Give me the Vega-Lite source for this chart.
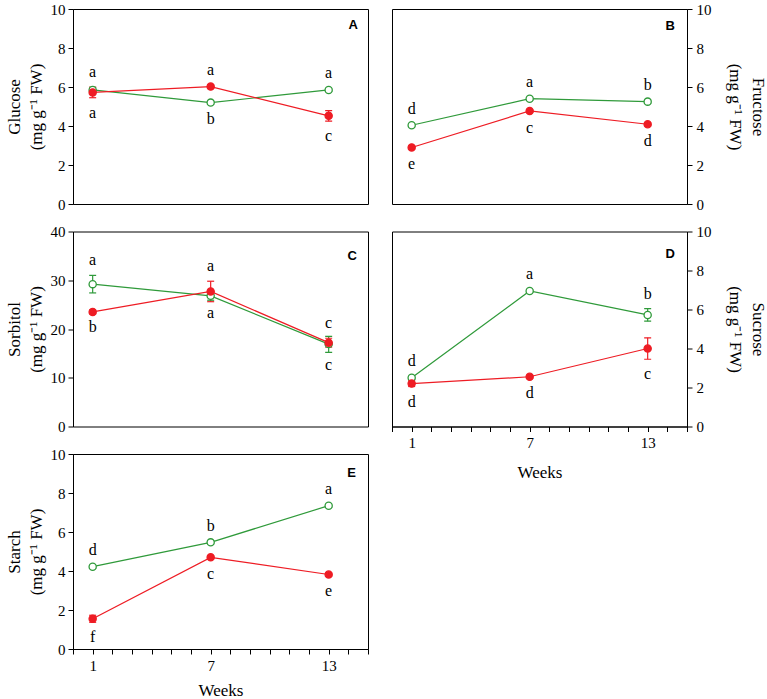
{
  "$schema": "https://vega.github.io/schema/vega-lite/v6.json",
  "background": "white",
  "padding": {"left": 4, "top": 1, "right": 0, "bottom": 0},
  "datasets": {
    "sugars": [
      {"panel": "A", "series": "Open", "week": 1, "mean": 5.85, "lo": 5.72, "hi": 5.98, "letter": "a", "pos": "above"},
      {"panel": "A", "series": "Open", "week": 7, "mean": 5.2, "lo": 5.12, "hi": 5.28, "letter": "b", "pos": "below"},
      {"panel": "A", "series": "Open", "week": 13, "mean": 5.85, "lo": 5.77, "hi": 5.93, "letter": "a", "pos": "above"},
      {"panel": "A", "series": "Filled", "week": 1, "mean": 5.72, "lo": 5.45, "hi": 5.99, "letter": "a", "pos": "below"},
      {"panel": "A", "series": "Filled", "week": 7, "mean": 6.02, "lo": 5.92, "hi": 6.12, "letter": "a", "pos": "above"},
      {"panel": "A", "series": "Filled", "week": 13, "mean": 4.52, "lo": 4.25, "hi": 4.79, "letter": "c", "pos": "below"},
      {"panel": "B", "series": "Open", "week": 1, "mean": 4.04, "lo": 3.96, "hi": 4.12, "letter": "d", "pos": "above"},
      {"panel": "B", "series": "Open", "week": 7, "mean": 5.4, "lo": 5.32, "hi": 5.48, "letter": "a", "pos": "above"},
      {"panel": "B", "series": "Open", "week": 13, "mean": 5.25, "lo": 5.17, "hi": 5.33, "letter": "b", "pos": "above"},
      {"panel": "B", "series": "Filled", "week": 1, "mean": 2.9, "lo": 2.82, "hi": 2.98, "letter": "e", "pos": "below"},
      {"panel": "B", "series": "Filled", "week": 7, "mean": 4.77, "lo": 4.69, "hi": 4.85, "letter": "c", "pos": "below"},
      {"panel": "B", "series": "Filled", "week": 13, "mean": 4.09, "lo": 4.01, "hi": 4.17, "letter": "d", "pos": "below"},
      {"panel": "C", "series": "Open", "week": 1, "mean": 29.2, "lo": 27.4, "hi": 31.0, "letter": "a", "pos": "above"},
      {"panel": "C", "series": "Open", "week": 7, "mean": 26.8, "lo": 25.9, "hi": 27.7, "letter": "a", "pos": "below"},
      {"panel": "C", "series": "Open", "week": 13, "mean": 16.9, "lo": 15.2, "hi": 18.5, "letter": "c", "pos": "below"},
      {"panel": "C", "series": "Filled", "week": 1, "mean": 23.5, "lo": 23.1, "hi": 23.9, "letter": "b", "pos": "below"},
      {"panel": "C", "series": "Filled", "week": 7, "mean": 27.7, "lo": 25.6, "hi": 29.8, "letter": "a", "pos": "above"},
      {"panel": "C", "series": "Filled", "week": 13, "mean": 17.2, "lo": 16.3, "hi": 18.1, "letter": "c", "pos": "above"},
      {"panel": "D", "series": "Open", "week": 1, "mean": 2.5, "lo": 2.42, "hi": 2.58, "letter": "d", "pos": "above"},
      {"panel": "D", "series": "Open", "week": 7, "mean": 6.95, "lo": 6.87, "hi": 7.03, "letter": "a", "pos": "above"},
      {"panel": "D", "series": "Open", "week": 13, "mean": 5.72, "lo": 5.4, "hi": 6.05, "letter": "b", "pos": "above"},
      {"panel": "D", "series": "Filled", "week": 1, "mean": 2.2, "lo": 2.05, "hi": 2.35, "letter": "d", "pos": "below"},
      {"panel": "D", "series": "Filled", "week": 7, "mean": 2.55, "lo": 2.47, "hi": 2.63, "letter": "d", "pos": "below"},
      {"panel": "D", "series": "Filled", "week": 13, "mean": 4.0, "lo": 3.45, "hi": 4.55, "letter": "c", "pos": "below"},
      {"panel": "E", "series": "Open", "week": 1, "mean": 4.22, "lo": 4.14, "hi": 4.3, "letter": "d", "pos": "above"},
      {"panel": "E", "series": "Open", "week": 7, "mean": 5.47, "lo": 5.39, "hi": 5.55, "letter": "b", "pos": "above"},
      {"panel": "E", "series": "Open", "week": 13, "mean": 7.35, "lo": 7.27, "hi": 7.43, "letter": "a", "pos": "above"},
      {"panel": "E", "series": "Filled", "week": 1, "mean": 1.55, "lo": 1.37, "hi": 1.73, "letter": "f", "pos": "below"},
      {"panel": "E", "series": "Filled", "week": 7, "mean": 4.7, "lo": 4.62, "hi": 4.78, "letter": "c", "pos": "below"},
      {"panel": "E", "series": "Filled", "week": 13, "mean": 3.82, "lo": 3.74, "hi": 3.9, "letter": "e", "pos": "below"}
    ]
  },
  "spacing": 22,
  "hconcat": [
    {
      "spacing": 27.5,
      "bounds": "flush",
      "vconcat": [
        {
          "width": 295, "height": 195,
          "title": {"text": "A", "anchor": "end", "frame": "group", "offset": -30, "dx": -10, "font": "Liberation Sans", "fontWeight": "bold", "fontSize": 13, "color": "black"},
          "data": {"name": "sugars"},
          "transform": [{"filter": "datum.panel == 'A'"}],
          "encoding": {
            "x": {"field": "week", "type": "quantitative", "scale": {"domain": [0, 15], "nice": false}, "axis": null},
            "y": {"field": "mean", "type": "quantitative", "scale": {"domain": [0, 10], "nice": false},
                  "axis": {"orient": "left", "values": [0, 2, 4, 6, 8, 10], "title": ["Glucose", "(mg g⁻¹ FW)"], "grid": false,
                           "labelFont": "Liberation Serif", "labelFontSize": 15, "labelColor": "black", "labelPadding": 3,
                           "tickSize": 5, "tickColor": "black", "domainColor": "black", "labelOverlap": false,
                           "titleFont": "Liberation Serif", "titleFontSize": 17, "titleFontWeight": "normal", "titleColor": "black",
                           "titleLineHeight": 22, "titlePadding": 5}}
          },
          "layer": [
            {"mark": {"type": "line", "strokeWidth": 1.2},
             "encoding": {"color": {"field": "series", "type": "nominal", "scale": {"domain": ["Open", "Filled"], "range": ["#2f9a3a", "#ee1c24"]}, "legend": null}}},
            {"mark": {"type": "rule", "strokeWidth": 1.2},
             "encoding": {"y": {"field": "lo", "type": "quantitative"}, "y2": {"field": "hi"}, "color": {"field": "series", "type": "nominal", "legend": null}}},
            {"mark": {"type": "tick", "orient": "horizontal", "size": 7, "thickness": 1.2, "opacity": 1},
             "encoding": {"y": {"field": "lo", "type": "quantitative"}, "color": {"field": "series", "type": "nominal", "legend": null}}},
            {"mark": {"type": "tick", "orient": "horizontal", "size": 7, "thickness": 1.2, "opacity": 1},
             "encoding": {"y": {"field": "hi", "type": "quantitative"}, "color": {"field": "series", "type": "nominal", "legend": null}}},
            {"mark": {"type": "circle", "size": 52, "strokeWidth": 1.3, "opacity": 1},
             "encoding": {"stroke": {"field": "series", "type": "nominal", "scale": {"domain": ["Open", "Filled"], "range": ["#2f9a3a", "#ee1c24"]}, "legend": null},
                          "fill": {"field": "series", "type": "nominal", "scale": {"domain": ["Open", "Filled"], "range": ["#ffffff", "#ee1c24"]}, "legend": null}}},
            {"transform": [{"filter": "datum.pos == 'above'"}],
             "mark": {"type": "text", "dy": -15, "font": "Liberation Serif", "fontSize": 16, "color": "black"},
             "encoding": {"y": {"field": "hi", "type": "quantitative"}, "text": {"field": "letter"}}},
            {"transform": [{"filter": "datum.pos == 'below'"}],
             "mark": {"type": "text", "dy": 15, "font": "Liberation Serif", "fontSize": 16, "color": "black"},
             "encoding": {"y": {"field": "lo", "type": "quantitative"}, "text": {"field": "letter"}}}
          ]
        },
        {
          "width": 295, "height": 195,
          "title": {"text": "C", "anchor": "end", "frame": "group", "offset": -38, "dx": -11, "font": "Liberation Sans", "fontWeight": "bold", "fontSize": 13, "color": "black"},
          "data": {"name": "sugars"},
          "transform": [{"filter": "datum.panel == 'C'"}],
          "encoding": {
            "x": {"field": "week", "type": "quantitative", "scale": {"domain": [0, 15], "nice": false}, "axis": null},
            "y": {"field": "mean", "type": "quantitative", "scale": {"domain": [0, 40], "nice": false},
                  "axis": {"orient": "left", "values": [0, 10, 20, 30, 40], "title": ["Sorbitol", "(mg g⁻¹ FW)"], "grid": false,
                           "labelFont": "Liberation Serif", "labelFontSize": 15, "labelColor": "black", "labelPadding": 3,
                           "tickSize": 5, "tickColor": "black", "domainColor": "black", "labelOverlap": false,
                           "titleFont": "Liberation Serif", "titleFontSize": 17, "titleFontWeight": "normal", "titleColor": "black",
                           "titleLineHeight": 22, "titlePadding": 5}}
          },
          "layer": [
            {"mark": {"type": "line", "strokeWidth": 1.2},
             "encoding": {"color": {"field": "series", "type": "nominal", "scale": {"domain": ["Open", "Filled"], "range": ["#2f9a3a", "#ee1c24"]}, "legend": null}}},
            {"mark": {"type": "rule", "strokeWidth": 1.2},
             "encoding": {"y": {"field": "lo", "type": "quantitative"}, "y2": {"field": "hi"}, "color": {"field": "series", "type": "nominal", "legend": null}}},
            {"mark": {"type": "tick", "orient": "horizontal", "size": 7, "thickness": 1.2, "opacity": 1},
             "encoding": {"y": {"field": "lo", "type": "quantitative"}, "color": {"field": "series", "type": "nominal", "legend": null}}},
            {"mark": {"type": "tick", "orient": "horizontal", "size": 7, "thickness": 1.2, "opacity": 1},
             "encoding": {"y": {"field": "hi", "type": "quantitative"}, "color": {"field": "series", "type": "nominal", "legend": null}}},
            {"mark": {"type": "circle", "size": 52, "strokeWidth": 1.3, "opacity": 1},
             "encoding": {"stroke": {"field": "series", "type": "nominal", "scale": {"domain": ["Open", "Filled"], "range": ["#2f9a3a", "#ee1c24"]}, "legend": null},
                          "fill": {"field": "series", "type": "nominal", "scale": {"domain": ["Open", "Filled"], "range": ["#ffffff", "#ee1c24"]}, "legend": null}}},
            {"transform": [{"filter": "datum.pos == 'above'"}],
             "mark": {"type": "text", "dy": -15, "font": "Liberation Serif", "fontSize": 16, "color": "black"},
             "encoding": {"y": {"field": "hi", "type": "quantitative"}, "text": {"field": "letter"}}},
            {"transform": [{"filter": "datum.pos == 'below'"}],
             "mark": {"type": "text", "dy": 13, "font": "Liberation Serif", "fontSize": 16, "color": "black"},
             "encoding": {"y": {"field": "lo", "type": "quantitative"}, "text": {"field": "letter"}}}
          ]
        },
        {
          "width": 295, "height": 195,
          "title": {"text": "E", "anchor": "end", "frame": "group", "offset": -33, "dx": -12, "font": "Liberation Sans", "fontWeight": "bold", "fontSize": 13, "color": "black"},
          "data": {"name": "sugars"},
          "transform": [{"filter": "datum.panel == 'E'"}],
          "encoding": {
            "x": {"field": "week", "type": "quantitative", "scale": {"domain": [0, 15], "nice": false},
                  "axis": {"values": [0, 1, 2, 3, 4, 5, 6, 7, 8, 9, 10, 11, 12, 13, 14, 15],
                           "labelExpr": "indexof([1, 7, 13], datum.value) >= 0 ? datum.label : ''",
                           "labelFlush": false, "labelOverlap": false, "grid": false,
                           "labelFont": "Liberation Serif", "labelFontSize": 15, "labelColor": "black", "labelPadding": 4,
                           "tickSize": 5, "tickColor": "black", "domainColor": "black",
                           "title": "Weeks", "titleFont": "Liberation Serif", "titleFontSize": 17, "titleFontWeight": "normal", "titleColor": "black", "titlePadding": 9}},
            "y": {"field": "mean", "type": "quantitative", "scale": {"domain": [0, 10], "nice": false},
                  "axis": {"orient": "left", "values": [0, 2, 4, 6, 8, 10], "title": ["Starch", "(mg g⁻¹ FW)"], "grid": false,
                           "labelFont": "Liberation Serif", "labelFontSize": 15, "labelColor": "black", "labelPadding": 3,
                           "tickSize": 5, "tickColor": "black", "domainColor": "black", "labelOverlap": false,
                           "titleFont": "Liberation Serif", "titleFontSize": 17, "titleFontWeight": "normal", "titleColor": "black",
                           "titleLineHeight": 22, "titlePadding": 5}}
          },
          "layer": [
            {"mark": {"type": "line", "strokeWidth": 1.2},
             "encoding": {"color": {"field": "series", "type": "nominal", "scale": {"domain": ["Open", "Filled"], "range": ["#2f9a3a", "#ee1c24"]}, "legend": null}}},
            {"mark": {"type": "rule", "strokeWidth": 1.2},
             "encoding": {"y": {"field": "lo", "type": "quantitative"}, "y2": {"field": "hi"}, "color": {"field": "series", "type": "nominal", "legend": null}}},
            {"mark": {"type": "tick", "orient": "horizontal", "size": 7, "thickness": 1.2, "opacity": 1},
             "encoding": {"y": {"field": "lo", "type": "quantitative"}, "color": {"field": "series", "type": "nominal", "legend": null}}},
            {"mark": {"type": "tick", "orient": "horizontal", "size": 7, "thickness": 1.2, "opacity": 1},
             "encoding": {"y": {"field": "hi", "type": "quantitative"}, "color": {"field": "series", "type": "nominal", "legend": null}}},
            {"mark": {"type": "circle", "size": 52, "strokeWidth": 1.3, "opacity": 1},
             "encoding": {"stroke": {"field": "series", "type": "nominal", "scale": {"domain": ["Open", "Filled"], "range": ["#2f9a3a", "#ee1c24"]}, "legend": null},
                          "fill": {"field": "series", "type": "nominal", "scale": {"domain": ["Open", "Filled"], "range": ["#ffffff", "#ee1c24"]}, "legend": null}}},
            {"transform": [{"filter": "datum.pos == 'above'"}],
             "mark": {"type": "text", "dy": -15, "font": "Liberation Serif", "fontSize": 16, "color": "black"},
             "encoding": {"y": {"field": "hi", "type": "quantitative"}, "text": {"field": "letter"}}},
            {"transform": [{"filter": "datum.pos == 'below'"}],
             "mark": {"type": "text", "dy": 15, "font": "Liberation Serif", "fontSize": 16, "color": "black"},
             "encoding": {"y": {"field": "lo", "type": "quantitative"}, "text": {"field": "letter"}}}
          ]
        }
      ]
    },
    {
      "spacing": 27.5,
      "bounds": "flush",
      "vconcat": [
        {
          "width": 295, "height": 195,
          "title": {"text": "B", "anchor": "end", "frame": "group", "offset": -31, "dx": -12, "font": "Liberation Sans", "fontWeight": "bold", "fontSize": 13, "color": "black"},
          "data": {"name": "sugars"},
          "transform": [{"filter": "datum.panel == 'B'"}],
          "encoding": {
            "x": {"field": "week", "type": "quantitative", "scale": {"domain": [0, 15], "nice": false}, "axis": null},
            "y": {"field": "mean", "type": "quantitative", "scale": {"domain": [0, 10], "nice": false},
                  "axis": {"orient": "right", "values": [0, 2, 4, 6, 8, 10], "title": ["Fructose", "(mg g⁻¹ FW)"], "titleAngle": 90, "grid": false,
                           "labelFont": "Liberation Serif", "labelFontSize": 15, "labelColor": "black", "labelPadding": 4,
                           "tickSize": 5, "tickColor": "black", "domainColor": "black", "labelOverlap": false,
                           "titleFont": "Liberation Serif", "titleFontSize": 17, "titleFontWeight": "normal", "titleColor": "black",
                           "titleLineHeight": 23, "titlePadding": 14}}
          },
          "layer": [
            {"mark": {"type": "line", "strokeWidth": 1.2},
             "encoding": {"color": {"field": "series", "type": "nominal", "scale": {"domain": ["Open", "Filled"], "range": ["#2f9a3a", "#ee1c24"]}, "legend": null}}},
            {"mark": {"type": "rule", "strokeWidth": 1.2},
             "encoding": {"y": {"field": "lo", "type": "quantitative"}, "y2": {"field": "hi"}, "color": {"field": "series", "type": "nominal", "legend": null}}},
            {"mark": {"type": "tick", "orient": "horizontal", "size": 7, "thickness": 1.2, "opacity": 1},
             "encoding": {"y": {"field": "lo", "type": "quantitative"}, "color": {"field": "series", "type": "nominal", "legend": null}}},
            {"mark": {"type": "tick", "orient": "horizontal", "size": 7, "thickness": 1.2, "opacity": 1},
             "encoding": {"y": {"field": "hi", "type": "quantitative"}, "color": {"field": "series", "type": "nominal", "legend": null}}},
            {"mark": {"type": "circle", "size": 52, "strokeWidth": 1.3, "opacity": 1},
             "encoding": {"stroke": {"field": "series", "type": "nominal", "scale": {"domain": ["Open", "Filled"], "range": ["#2f9a3a", "#ee1c24"]}, "legend": null},
                          "fill": {"field": "series", "type": "nominal", "scale": {"domain": ["Open", "Filled"], "range": ["#ffffff", "#ee1c24"]}, "legend": null}}},
            {"transform": [{"filter": "datum.pos == 'above'"}],
             "mark": {"type": "text", "dy": -15, "font": "Liberation Serif", "fontSize": 16, "color": "black"},
             "encoding": {"y": {"field": "hi", "type": "quantitative"}, "text": {"field": "letter"}}},
            {"transform": [{"filter": "datum.pos == 'below'"}],
             "mark": {"type": "text", "dy": 15, "font": "Liberation Serif", "fontSize": 16, "color": "black"},
             "encoding": {"y": {"field": "lo", "type": "quantitative"}, "text": {"field": "letter"}}}
          ]
        },
        {
          "width": 295, "height": 195,
          "title": {"text": "D", "anchor": "end", "frame": "group", "offset": -36, "dx": -12, "font": "Liberation Sans", "fontWeight": "bold", "fontSize": 13, "color": "black"},
          "data": {"name": "sugars"},
          "transform": [{"filter": "datum.panel == 'D'"}],
          "encoding": {
            "x": {"field": "week", "type": "quantitative", "scale": {"domain": [0, 15], "nice": false},
                  "axis": {"values": [0, 1, 2, 3, 4, 5, 6, 7, 8, 9, 10, 11, 12, 13, 14, 15],
                           "labelExpr": "indexof([1, 7, 13], datum.value) >= 0 ? datum.label : ''",
                           "labelFlush": false, "labelOverlap": false, "grid": false,
                           "labelFont": "Liberation Serif", "labelFontSize": 15, "labelColor": "black", "labelPadding": 4,
                           "tickSize": 5, "tickColor": "black", "domainColor": "black",
                           "title": "Weeks", "titleFont": "Liberation Serif", "titleFontSize": 17, "titleFontWeight": "normal", "titleColor": "black", "titlePadding": 14}},
            "y": {"field": "mean", "type": "quantitative", "scale": {"domain": [0, 10], "nice": false},
                  "axis": {"orient": "right", "values": [0, 2, 4, 6, 8, 10], "title": ["Sucrose", "(mg g⁻¹ FW)"], "titleAngle": 90, "grid": false,
                           "labelFont": "Liberation Serif", "labelFontSize": 15, "labelColor": "black", "labelPadding": 4,
                           "tickSize": 5, "tickColor": "black", "domainColor": "black", "labelOverlap": false,
                           "titleFont": "Liberation Serif", "titleFontSize": 17, "titleFontWeight": "normal", "titleColor": "black",
                           "titleLineHeight": 23, "titlePadding": 14}}
          },
          "layer": [
            {"mark": {"type": "line", "strokeWidth": 1.2},
             "encoding": {"color": {"field": "series", "type": "nominal", "scale": {"domain": ["Open", "Filled"], "range": ["#2f9a3a", "#ee1c24"]}, "legend": null}}},
            {"mark": {"type": "rule", "strokeWidth": 1.2},
             "encoding": {"y": {"field": "lo", "type": "quantitative"}, "y2": {"field": "hi"}, "color": {"field": "series", "type": "nominal", "legend": null}}},
            {"mark": {"type": "tick", "orient": "horizontal", "size": 7, "thickness": 1.2, "opacity": 1},
             "encoding": {"y": {"field": "lo", "type": "quantitative"}, "color": {"field": "series", "type": "nominal", "legend": null}}},
            {"mark": {"type": "tick", "orient": "horizontal", "size": 7, "thickness": 1.2, "opacity": 1},
             "encoding": {"y": {"field": "hi", "type": "quantitative"}, "color": {"field": "series", "type": "nominal", "legend": null}}},
            {"mark": {"type": "circle", "size": 52, "strokeWidth": 1.3, "opacity": 1},
             "encoding": {"stroke": {"field": "series", "type": "nominal", "scale": {"domain": ["Open", "Filled"], "range": ["#2f9a3a", "#ee1c24"]}, "legend": null},
                          "fill": {"field": "series", "type": "nominal", "scale": {"domain": ["Open", "Filled"], "range": ["#ffffff", "#ee1c24"]}, "legend": null}}},
            {"transform": [{"filter": "datum.pos == 'above'"}],
             "mark": {"type": "text", "dy": -15, "font": "Liberation Serif", "fontSize": 16, "color": "black"},
             "encoding": {"y": {"field": "hi", "type": "quantitative"}, "text": {"field": "letter"}}},
            {"transform": [{"filter": "datum.pos == 'below'"}],
             "mark": {"type": "text", "dy": 15, "font": "Liberation Serif", "fontSize": 16, "color": "black"},
             "encoding": {"y": {"field": "lo", "type": "quantitative"}, "text": {"field": "letter"}}}
          ]
        }
      ]
    }
  ],
  "config": {
    "view": {"stroke": "black", "strokeWidth": 1},
    "axis": {"domainColor": "black", "tickColor": "black", "labelColor": "black", "titleColor": "black", "grid": false}
  }
}
